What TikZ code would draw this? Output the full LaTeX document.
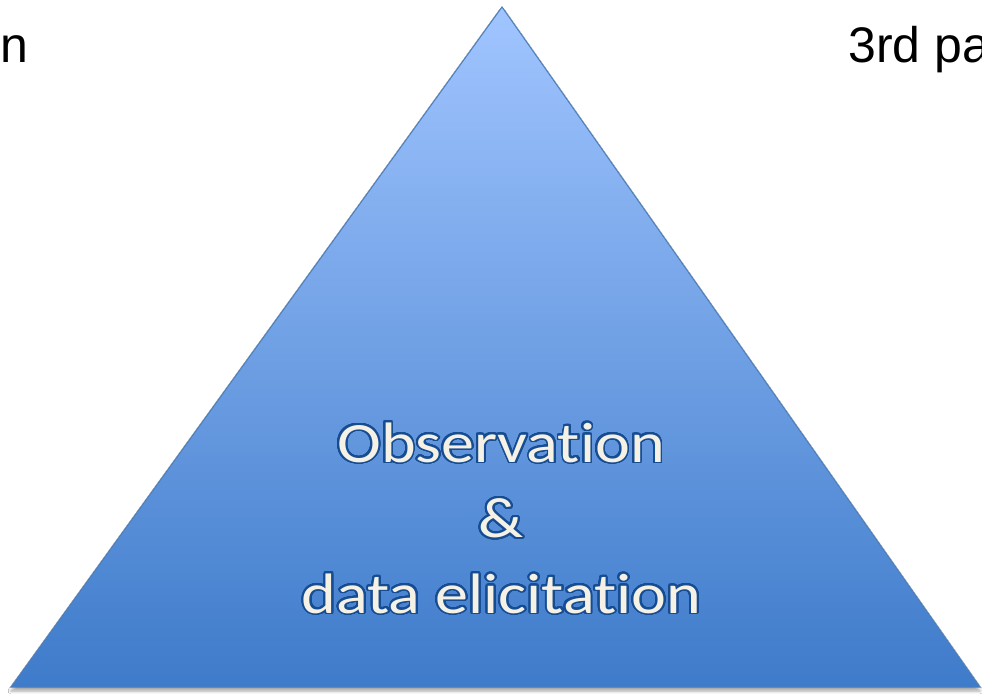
\documentclass[tikz,border=0pt]{standalone}
\usepackage{fontspec}
\setmainfont{Liberation Sans}
\newfontfamily\calfont[Ligatures=NoCommon, FakeStretch=1.16]{Carlito}
\usepackage{contour}
\usetikzlibrary{shadows.blur}
\definecolor{topblue}{RGB}{161,197,255}
\definecolor{botblue}{RGB}{62,123,202}
\definecolor{edgeblue}{RGB}{74,126,187}
\definecolor{wordfill}{RGB}{245,241,228}
\definecolor{wordline}{RGB}{22,76,146}
\contourlength{1.8pt}
\contournumber{40}
\tikzset{
  pyramid/.style={draw=edgeblue, line width=1pt, top color=topblue, bottom color=botblue,
    blur shadow={shadow xshift=0pt, shadow yshift=-4pt, shadow blur radius=3pt, shadow opacity=35}},
  word/.style={inner sep=0pt, anchor=base, font=\calfont\fontsize{57}{68}\selectfont, text=wordfill},
  corner/.style={inner sep=0pt, font=\fontsize{50}{60}\selectfont, text=black}
}
\begin{document}
\begin{tikzpicture}[x=1pt,y=1pt]
\useasboundingbox (0,0) rectangle (982,694);
\clip (0,0) rectangle (982,694);
\fill[white] (0,0) rectangle (982,694);
\coordinate (apex) at (502,687);
\coordinate (bl) at (11,7);
\coordinate (br) at (980,7);
\path[pyramid] (apex) -- (br) -- (bl) -- cycle;
\node[word] (obs) at (501,232) {\contour{wordline}{Observation}};
\node[word] (amp) at (501,156.5) {\contour{wordline}{\&}};
\node[word] (data) at (501.5,81) {\contour{wordline}{data elicitation}};
\node[corner, anchor=base east] (left) at (29,631) {n};
\node[corner, anchor=base west] (right) at (848,631) {3rd pa};
\end{tikzpicture}
\end{document}
